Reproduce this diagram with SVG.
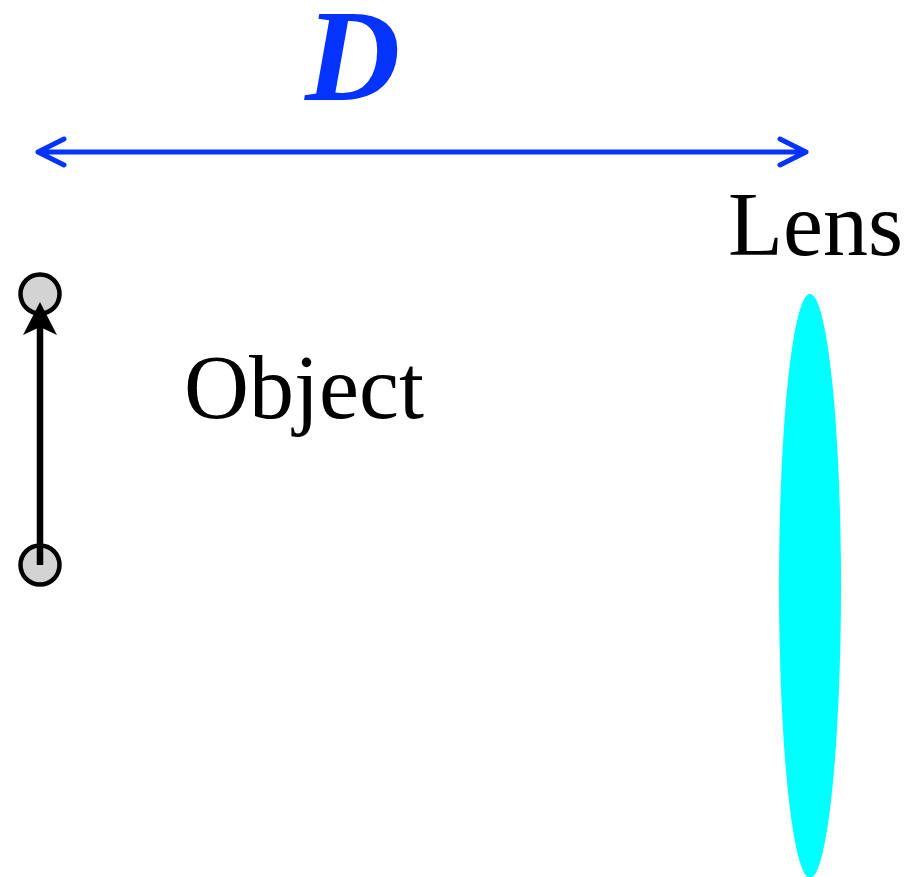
<svg xmlns="http://www.w3.org/2000/svg" width="908" height="877" viewBox="0 0 908 877">
<style>
.lbl{font-family:"Liberation Serif","Times New Roman",serif;font-size:90px;fill:#000}
.dim{stroke:#0433ff;stroke-width:5;fill:none;stroke-linecap:round;stroke-linejoin:round}
.pt{fill:#d3d3d3;stroke:#000;stroke-width:4.5}
</style>
<rect width="908" height="877" fill="#fff"/>
<g id="dimension">
<text x="305" y="100" font-family="Liberation Serif,'Times New Roman',serif" font-size="132" font-weight="bold" font-style="italic" fill="#0433ff">D</text>
</g>
<g id="object">
<circle class="pt" cx="40" cy="294" r="19.5"/>
<circle class="pt" cx="40" cy="565" r="19.5"/>
<text class="lbl" x="184" y="418">Object</text>
</g>
<g id="lens">
<ellipse cx="810" cy="586" rx="31" ry="292" fill="#00ffff"/>
<text class="lbl" x="728" y="255">Lens</text>
</g>
<g id="connectors">
<path class="dim" d="M38,152 H806 M64,139 L38,152 L64,165 M780,139 L806,152 L780,165"/>
<line x1="40" y1="565" x2="40" y2="325" stroke="#000" stroke-width="6.5"/>
<path d="M40,302 L57,335 L40,327 L23,335 Z" fill="#000"/>
</g>
</svg>
